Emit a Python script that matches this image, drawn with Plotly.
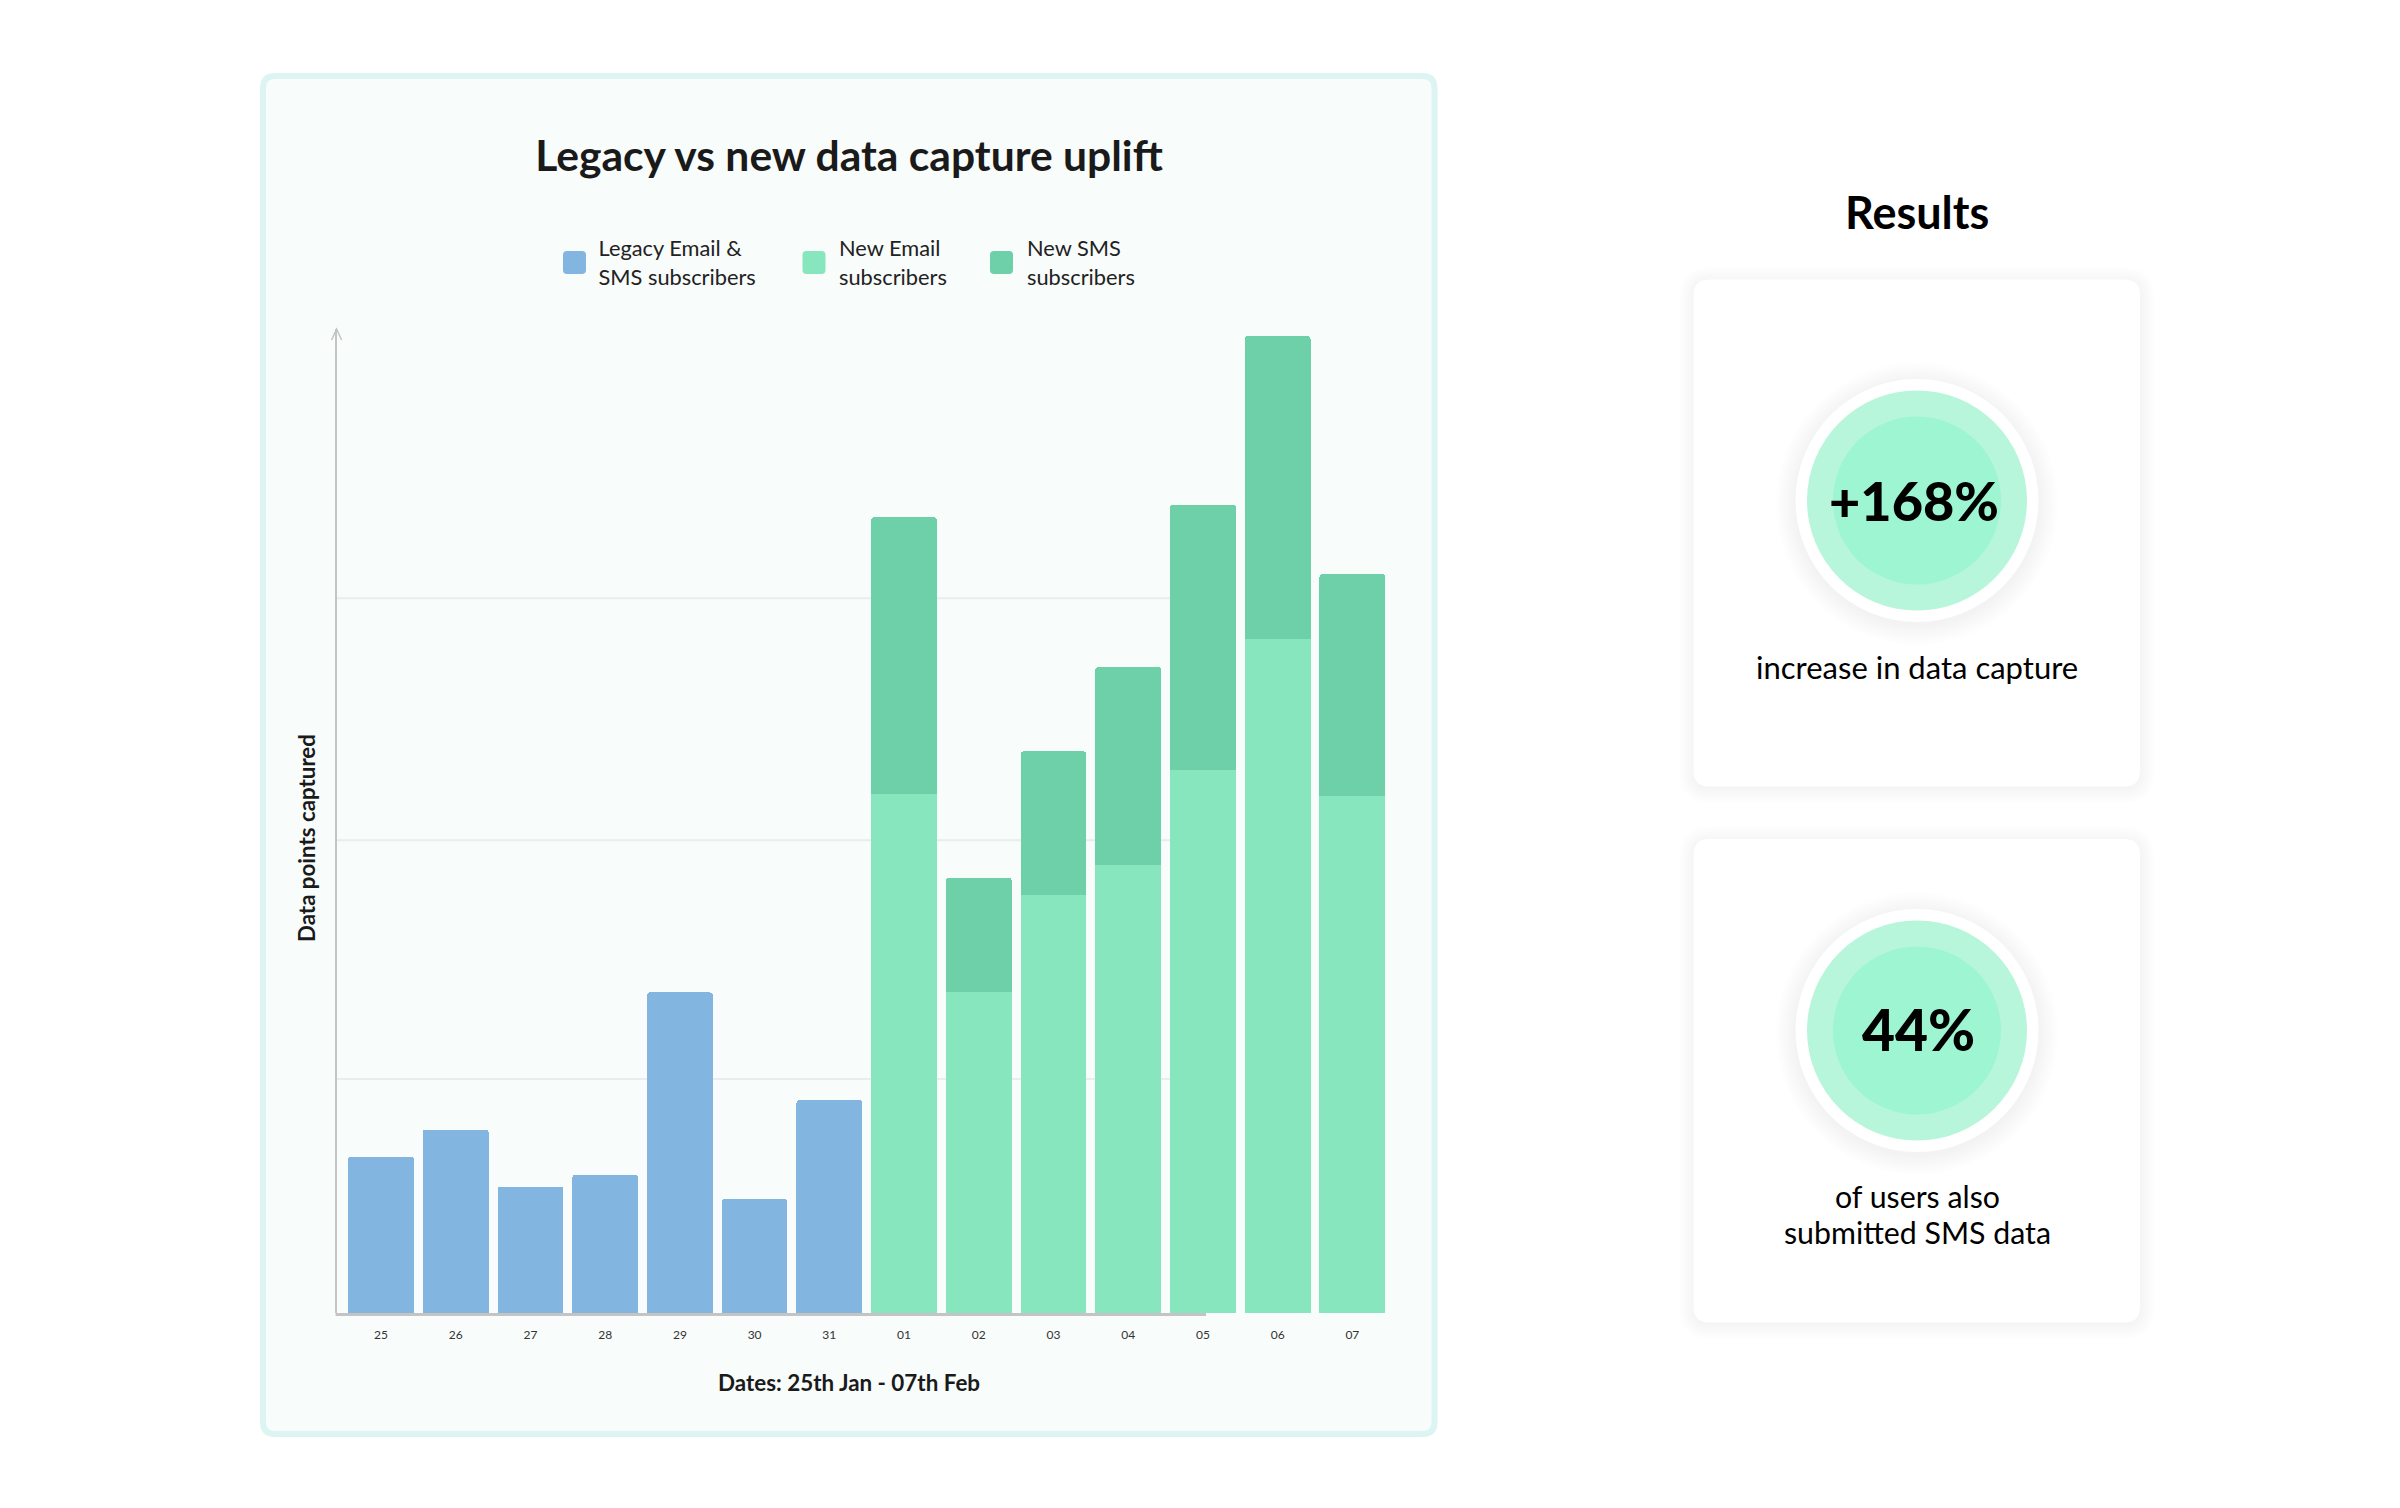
import plotly.graph_objects as go

DATES = ["25","26","27","28","29","30","31","01","02","03","04","05","06","07"]
LEGACY = [66.7,78.4,54,59,137,48.7,91,None,None,None,None,None,None,None]
NEW_EMAIL = [None]*7 + [222,137,178.5,191.6,232,288,221]
NEW_SMS = [None]*7 + [118,49,61.5,84.4,113.5,129.5,94.8]
GRID_TICKS = [100,202,305.5]

W, H = 2400, 1508
def px(x): return x/W
def py(y): return 1-y/H

L, R, TOP, BASE = 336.6, 1385.5, 329.0, 1313.0
UNIT = 2.34
ymax = (BASE-TOP)/UNIT
STEP = 74.72
x_lo = (L-381)/STEP
x_hi = x_lo + (R-L)/STEP

def rrect(x0,y0,x1,y1,r):
    return (f"M{px(x0+r)},{py(y0)} L{px(x1-r)},{py(y0)} "
            f"Q{px(x1)},{py(y0)} {px(x1)},{py(y0+r)} L{px(x1)},{py(y1-r)} "
            f"Q{px(x1)},{py(y1)} {px(x1-r)},{py(y1)} L{px(x0+r)},{py(y1)} "
            f"Q{px(x0)},{py(y1)} {px(x0)},{py(y1-r)} L{px(x0)},{py(y0+r)} "
            f"Q{px(x0)},{py(y0)} {px(x0+r)},{py(y0)} Z")

shapes = []
def path(d, fill, line=None, lw=0, layer="below"):
    shapes.append(dict(type="path", xref="paper", yref="paper", path=d, fillcolor=fill,
                       line=dict(color=line or "rgba(0,0,0,0)", width=lw), layer=layer))
def circle(cx, cy, r, fill):
    shapes.append(dict(type="circle", xref="paper", yref="paper",
                       x0=px(cx-r), x1=px(cx+r), y0=py(cy+r), y1=py(cy-r),
                       fillcolor=fill, line=dict(width=0), layer="below"))

# chart panel
path(rrect(263,76,1434.5,1434,12), "#f8fcfb", "#dcf5f3", 6)

# result cards with soft shadow
for (x0,y0,x1,y1) in [(1693.5,279.5,2140,786.5),(1693.5,839,2140,1322.5)]:
    for k in range(10,0,-1):
        path(rrect(x0-k*1.5,y0-k*1.5+2,x1+k*1.5,y1+k*1.5+2,16+k*1.5), "rgba(0,0,0,0.0035)")
    path(rrect(x0,y0,x1,y1,16), "#ffffff")

# result circles
CX = 1917
for cy in (500.5, 1030.5):
    for k in range(12,0,-1):
        circle(CX, cy+3, 121.5+k*1.7, "rgba(0,0,0,0.005)")
    circle(CX, cy, 121.5, "#ffffff")
    circle(CX, cy, 110, "#b7f6db")
    circle(CX, cy, 84, "#9df5d2")

# y-axis arrow head
path(f"M{px(L-5)},{py(TOP+11)} L{px(L)},{py(TOP)} L{px(L+5)},{py(TOP+11)}",
     "rgba(0,0,0,0)", "#c4c4c4", 1.5)

# legend swatches (enlarged, rounded)
for sx, col in [(563,"#82b6e1"),(802.5,"#87e6bd"),(990,"#6ed0a9")]:
    path(rrect(sx,251,sx+23,274,4), col, layer="above")

# gridlines stop at the 05 bar, baseline stops near the 05 tick
for t in GRID_TICKS:
    shapes.append(dict(type="line", xref="x domain", yref="y", x0=0, x1=0.85, y0=t, y1=t,
                       line=dict(color="#e8eeec", width=2), layer="below"))
shapes.append(dict(type="line", xref="paper", yref="paper", x0=px(L-1), x1=px(1206),
                   y0=py(BASE+1.5), y1=py(BASE+1.5),
                   line=dict(color="#c4c4c4", width=3), layer="below"))

FONT = "Lato"
fig = go.Figure()
fig.add_bar(x=DATES, y=LEGACY, name="Legacy Email &<br>SMS subscribers", marker=dict(color="#82b6e1", line=dict(width=0)), legend="legend")
fig.add_bar(x=DATES, y=NEW_EMAIL, name="New Email<br>subscribers", marker=dict(color="#87e6bd", line=dict(width=0)), legend="legend2")
fig.add_bar(x=DATES, y=NEW_SMS, name="New SMS<br>subscribers", marker=dict(color="#6ed0a9", line=dict(width=0)), legend="legend3")

def ann(text, x, y, size, weight=400, color="#000000", **kw):
    return dict(text=text, xref="paper", yref="paper", x=px(x), y=py(y), showarrow=False,
                xanchor="center", yanchor="middle",
                font=dict(family=FONT, size=size, color=color, weight=weight), **kw)

annotations = [
    ann("Dates: 25th Jan - 07th Feb", 849, 1382, 22.4, 700, "#1a1a1a"),
    ann("Data points captured", 306, 838, 22.3, 700, "#1a1a1a", textangle=-90),
    ann("Results", CX, 211.5, 45, 700),
    ann("+168%", CX-3, 500, 54, 900),
    ann("increase in data capture", CX, 667, 31, 400),
    ann("44%", CX+1, 1029, 57, 900),
    ann("of users also", CX, 1196, 30.3, 400),
    ann("submitted SMS data", CX, 1232, 30.3, 400),
]

def legend_at(x):
    return dict(orientation="h", x=px(x), y=py(262), xanchor="left", yanchor="middle",
                font=dict(family=FONT, size=21.8, color="#222222"), bgcolor="rgba(0,0,0,0)",
                itemclick=False, itemdoubleclick=False)

fig.update_layout(
    width=W, height=H, autosize=False,
    margin=dict(l=0,r=0,t=0,b=0),
    paper_bgcolor="#ffffff", plot_bgcolor="rgba(0,0,0,0)",
    barmode="stack", bargap=0.12, barcornerradius=3,
    title=dict(text="Legacy vs new data capture uplift", x=px(849), y=py(156), xanchor="center", yanchor="middle",
               font=dict(family=FONT, size=42.6, color="#1a1a1a", weight=700)),
    legend=legend_at(558.5), legend2=legend_at(799), legend3=legend_at(987),
    xaxis=dict(domain=[px(L),px(R)], range=[x_lo,x_hi], type="category", categoryorder="array", categoryarray=DATES,
               showgrid=False, showline=False, zeroline=False,
               ticks="outside", ticklen=11, tickcolor="rgba(0,0,0,0)",
               tickfont=dict(family=FONT, size=12, color="#333333")),
    yaxis=dict(domain=[py(BASE),py(TOP)], range=[0,ymax], showgrid=False, zeroline=False,
               showline=True, linecolor="#c4c4c4", linewidth=2, showticklabels=False, ticks="",
               tickvals=GRID_TICKS),
    shapes=shapes, annotations=annotations, showlegend=True,
)
fig.write_html("out.html", post_script="document.body.style.margin='0';", config={"displayModeBar": False})
